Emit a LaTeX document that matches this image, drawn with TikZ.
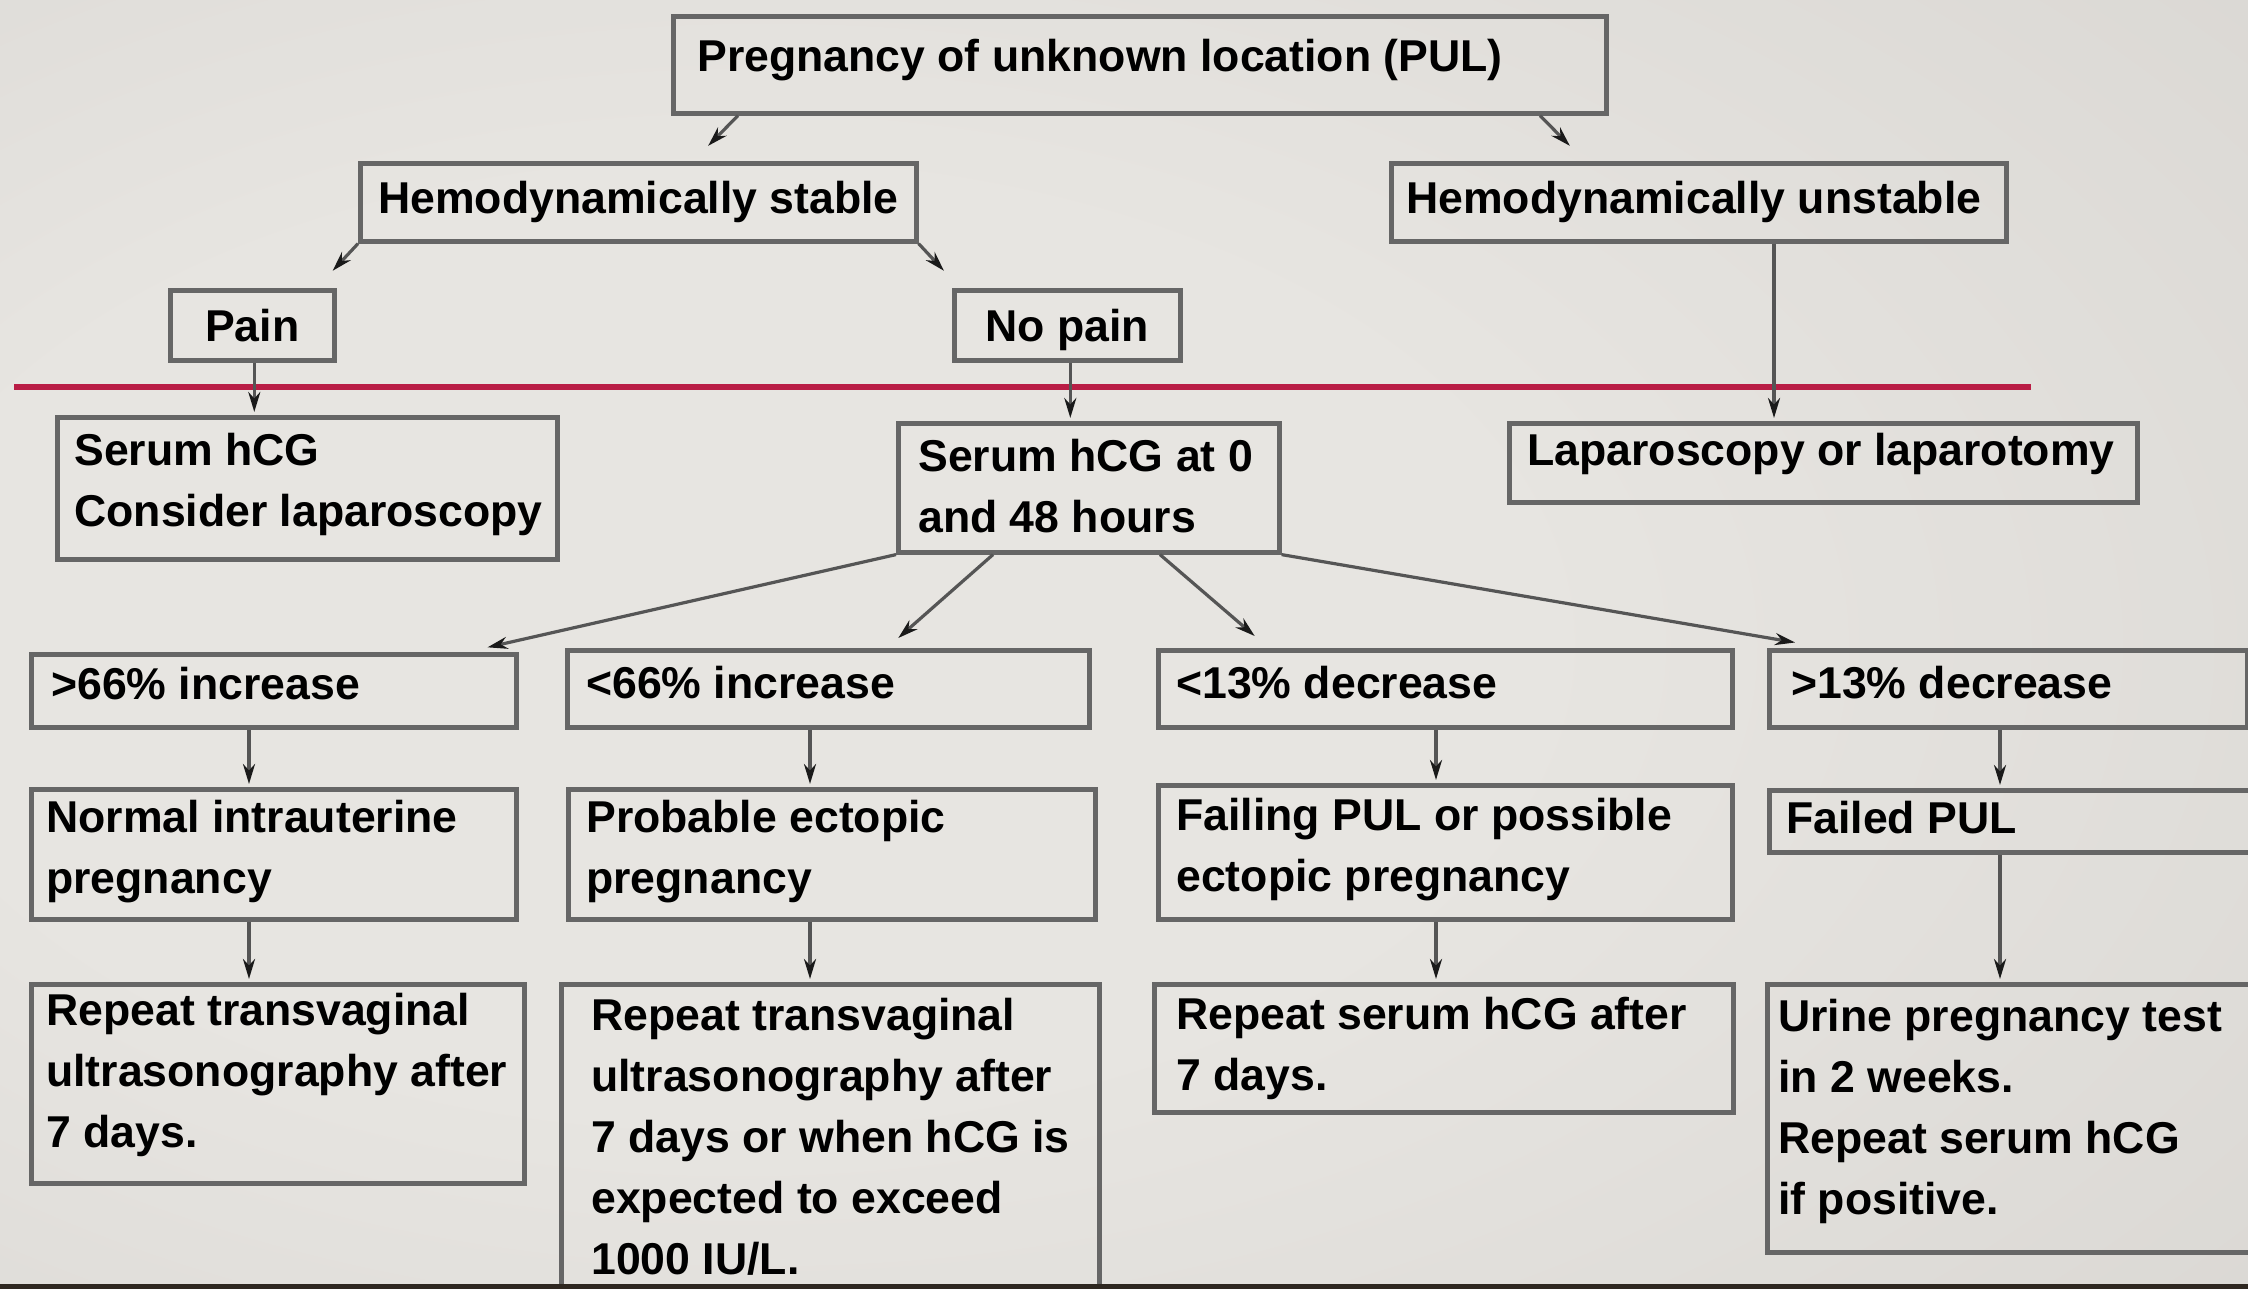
\documentclass[tikz,border=0pt]{standalone}
\usepackage{fontspec}
\setmainfont{Liberation Sans}
\usetikzlibrary{arrows.meta,calc}
\definecolor{bglight}{HTML}{E7E5E1}
\definecolor{bgdark}{HTML}{C9C6C2}
\definecolor{boxgray}{HTML}{666666}
\definecolor{linegray}{HTML}{555555}
\definecolor{headcol}{HTML}{1A1A1A}
\definecolor{redline}{HTML}{B91D45}
\definecolor{stripcol}{HTML}{2E2720}
\pgfdeclareradialshading{bgrad}{\pgfpoint{-12bp}{0bp}}{color(0bp)=(bglight); color(18bp)=(bglight); color(72bp)=(bgdark)}
\newcommand\btext[3]{\parbox{#1}{\raggedright\leftskip=#2\relax #3}}
\newcommand\dep[1]{\rule[-#1]{0pt}{#1}}
\begin{document}
\begin{tikzpicture}[x=0.5pt,y=-0.5pt,
  fbox/.style={draw=boxgray, line width=2.3pt, anchor=north west, inner sep=0pt,
    font=\bfseries\fontsize{22.3pt}{30.5pt}\selectfont},
  conn/.style={draw=linegray, line width=1.6pt, shorten >=1.5pt,
    -{Stealth[length=10pt,width=6pt,color=headcol]}},
  redrule/.style={draw=redline, line width=3.2pt}]
\useasboundingbox (0,0) rectangle (2248,1289);
\clip (0,0) rectangle (2248,1289);
\shade[shading=bgrad] (0,0) rectangle (2248,1289);

% nodes
\node[fbox, minimum width=466.5pt, minimum height=48.5pt] (top) at (671,14)
  {\btext{466.5pt}{12pt}{Pregnancy of unknown location (PUL)\dep{9pt}}};
\node[fbox, minimum width=278pt, minimum height=39pt] (stable) at (358,161)
  {\btext{278pt}{9pt}{Hemodynamically stable}};
\node[fbox, minimum width=307.5pt, minimum height=39pt] (unstable) at (1389,161)
  {\btext{307.5pt}{7.5pt}{Hemodynamically unstable}};
\node[fbox, minimum width=82pt, minimum height=35pt] (pain) at (168,288) {Pain};
\node[fbox, minimum width=113pt, minimum height=35pt] (nopain) at (952,288)
  {\raisebox{0pt}[\height][0pt]{No pain}};
\node[fbox, minimum width=250pt, minimum height=71pt] (serum) at (55,415)
  {\btext{250pt}{8.5pt}{Serum hCG\\Consider laparoscopy\dep{8.3pt}}};
\node[fbox, minimum width=190.5pt, minimum height=64.5pt] (serum0) at (896,421)
  {\btext{190.5pt}{10pt}{Serum hCG at 0\\and 48 hours\dep{2pt}}};
\node[fbox, minimum width=314pt, minimum height=39.5pt] (lap) at (1507,421)
  {\btext{314pt}{9pt}{Laparoscopy or laparotomy\dep{13.3pt}}};

\node[fbox, minimum width=242.5pt, minimum height=36.5pt] (r3a) at (29,652)
  {\btext{242.5pt}{10pt}{>66\% increase\dep{7pt}}};
\node[fbox, minimum width=261pt, minimum height=38.5pt] (r3b) at (565,648)
  {\btext{261pt}{9.5pt}{<66\% increase\dep{6pt}}};
\node[fbox, minimum width=287pt, minimum height=38.5pt] (r3c) at (1156,648)
  {\btext{287pt}{9pt}{<13\% decrease\dep{6pt}}};
\node[fbox, minimum width=239pt, minimum height=38.5pt] (r3d) at (1767,648)
  {\btext{239pt}{11pt}{>13\% decrease\dep{6pt}}};

\node[fbox, minimum width=242.5pt, minimum height=65pt] (r4a) at (29,787)
  {\btext{242.5pt}{7.5pt}{Normal intrauterine\\pregnancy\dep{7.5pt}}};
\node[fbox, minimum width=263.5pt, minimum height=65pt] (r4b) at (566,787)
  {\btext{263.5pt}{9pt}{Probable ectopic\\pregnancy\dep{7.5pt}}};
\node[fbox, minimum width=287pt, minimum height=67pt] (r4c) at (1156,783)
  {\btext{287pt}{9pt}{Failing PUL or possible\\ectopic pregnancy\dep{7.5pt}}};
\node[fbox, minimum width=260pt, minimum height=31pt] (r4d) at (1767,788)
  {\btext{260pt}{8.5pt}{Failed PUL\dep{4pt}}};

\node[fbox, minimum width=246.5pt, minimum height=99.5pt] (r5a) at (29,982)
  {\btext{246.5pt}{7.5pt}{Repeat transvaginal\\ultrasonography after\\7 days.\dep{13.5pt}}};
\node[fbox, minimum width=269pt, minimum height=152pt] (r5b) at (559,982)
  {\btext{269pt}{15pt}{Repeat transvaginal\\ultrasonography after\\7 days or when hCG is\\expected to exceed\\1000 IU/L.}};
\node[fbox, minimum width=289.5pt, minimum height=64pt] (r5c) at (1152,982)
  {\btext{289.5pt}{11pt}{Repeat serum hCG after\\7 days.}};
\node[fbox, minimum width=260pt, minimum height=134pt] (r5d) at (1765,982)
  {\btext{260pt}{5.5pt}{Urine pregnancy test\\in 2 weeks.\\Repeat serum hCG\\if positive.\dep{11.5pt}}};

% red rule
\coordinate (rl1) at (14,387);
\coordinate (rl2) at (2031,387);
\draw[redrule] (rl1) -- (rl2);

% connectors
\draw[conn] ($(top.south west)+(67,0)$) -- ($(stable.north west)+(348,-13)$);
\draw[conn] ($(top.south west)+(869,0)$) -- ($(unstable.north west)+(183,-13)$);
\draw[conn] (stable.south west) -- ($(pain.north east)+(-6,-15)$);
\draw[conn] (stable.south east) -- ($(nopain.north west)+(-6,-15)$);
\draw[conn] ($(pain.south)+(2,0)$) coordinate (p1) -- (p1 |- serum.north);
\draw[conn] ($(nopain.south)+(3,0)$) coordinate (p2) -- (p2 |- serum0.north);
\draw[conn] ($(unstable.south west)+(385,0)$) coordinate (p3) -- (p3 |- lap.north);

\draw[conn] (serum0.south west) -- ($(r3a.north east)+(-34,-4)$);
\draw[conn] ($(serum0.south west)+(97,0)$) -- ($(r3b.north west)+(331,-8)$);
\draw[conn] ($(serum0.south west)+(264,0)$) -- ($(r3c.north west)+(101,-10)$);
\draw[conn] (serum0.south east) -- ($(r3d.north west)+(31,-5)$);

\draw[conn] ($(r3a.south west)+(220,0)$) coordinate (q1) -- (q1 |- r4a.north);
\draw[conn] ($(r3b.south west)+(245,0)$) coordinate (q2) -- (q2 |- r4b.north);
\draw[conn] ($(r3c.south west)+(280,0)$) coordinate (q3) -- (q3 |- r4c.north);
\draw[conn] ($(r3d.south west)+(233,0)$) coordinate (q4) -- (q4 |- r4d.north);

\draw[conn] ($(r4a.south west)+(220,0)$) coordinate (s1) -- (s1 |- r5a.north);
\draw[conn] ($(r4b.south west)+(244,0)$) coordinate (s2) -- (s2 |- r5b.north);
\draw[conn] ($(r4c.south west)+(280,0)$) coordinate (s3) -- (s3 |- r5c.north);
\draw[conn] ($(r4d.south west)+(233,0)$) coordinate (s4) -- (s4 |- r5d.north);

% bottom strip
\fill[stripcol] (0,1284) rectangle (2248,1289);
\end{tikzpicture}
\end{document}
